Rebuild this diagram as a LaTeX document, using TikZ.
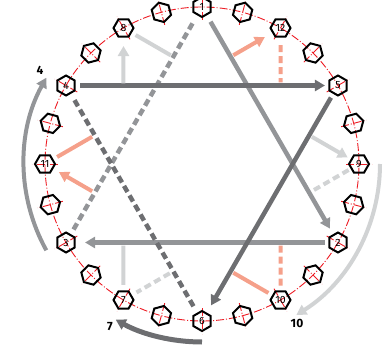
\documentclass[tikz,border=0pt]{standalone}
\usepackage{fontspec}
\setmainfont{Fira Sans}
\usetikzlibrary{arrows.meta,shapes.geometric}
\definecolor{redl}{HTML}{ED1C24}
\definecolor{gmed}{HTML}{939598}
\definecolor{gdark}{HTML}{6D6E71}
\definecolor{glight}{HTML}{D1D3D4}
\definecolor{salm}{HTML}{F5A08A}
\begin{document}
\begin{tikzpicture}[x=1pt,y=1pt,
 bolt/.style={regular polygon, regular polygon sides=6, minimum size=20pt, inner sep=0pt, outer sep=0pt, draw=black, line width=2pt, font=\fontsize{10.5}{10.5}\selectfont},
 redline/.style={draw=redl, line width=0.9pt, dash pattern=on 8pt off 2pt on 1pt off 2pt},
 star/.style={line width=4.5pt},
 tipa/.style={-{Triangle[length=10pt,width=11pt]}},
 sec/.style={line width=4pt},
 dsh/.style={dash pattern=on 7pt off 4pt},
 lab/.style={font=\bfseries\fontsize{12}{12}\selectfont}
]
\useasboundingbox (-202,-183) rectangle (185,164);
\def\R{157}
% bolt circle and centre lines
\draw[redline] (0,0) circle (\R);
\foreach \a in {0,15,...,345} {\draw[redline] (\a:\R-13) -- (\a:\R+13);}
% numbered bolts
\foreach \n/\a in {1/90,2/-30,3/210,4/150,5/30,6/270,7/240,8/120,9/0,10/300,11/180,12/60} {
  \coordinate (p\n) at (\a:\R);
  \node[bolt, shape border rotate=\a] (b\n) at (p\n) {\n};
}
% other bolts
\foreach \a [count=\i] in {15,45,...,345} {
  \node[bolt, shape border rotate=\a] (u\i) at (\a:\R) {};
}
% star, first two triangles
\draw[star, gmed, tipa, shorten <=17pt, shorten >=16pt] (b1.center) -- (b2.center);
\draw[star, gmed, tipa, shorten <=13pt, shorten >=19pt] (b2.center) -- (b3.center);
\draw[star, gmed, dsh, shorten <=15pt, shorten >=15pt] (b3.center) -- (b1.center);
\draw[star, gdark, tipa, shorten <=14pt, shorten >=13pt] (b4.center) -- (b5.center);
\draw[star, gdark, tipa, shorten <=14pt, shorten >=18pt] (b5.center) -- (b6.center);
\draw[star, gdark, dsh, shorten <=17pt, shorten >=13pt] (b6.center) -- (b4.center);
% third triangle (light grey)
\draw[sec, glight, shorten <=15pt, shorten >=3pt] (b7.center) -- (intersection of p7--p8 and p2--p3);
\draw[sec, glight, tipa, shorten <=2pt, shorten >=18pt] (intersection of p7--p8 and p4--p5) -- (b8.center);
\draw[sec, glight, shorten <=14pt, shorten >=3pt] (b8.center) -- (intersection of p8--p9 and p3--p1);
\draw[sec, glight, tipa, shorten <=3pt, shorten >=13pt] (intersection of p8--p9 and p5--p6) -- (b9.center);
\draw[sec, glight, dsh, shorten <=12pt, shorten >=4pt] (b9.center) -- (intersection of p9--p7 and p1--p2);
\draw[sec, glight, dsh, shorten <=4pt, shorten >=15pt] (intersection of p9--p7 and p4--p6) -- (b7.center);
% fourth triangle (salmon)
\draw[sec, salm, shorten <=14pt, shorten >=3pt] (b10.center) -- (intersection of p10--p11 and p5--p6);
\draw[sec, salm, tipa, shorten <=3pt, shorten >=16pt] (intersection of p10--p11 and p3--p1) -- (b11.center);
\draw[sec, salm, shorten <=14pt, shorten >=3pt] (b11.center) -- (intersection of p11--p12 and p4--p6);
\draw[sec, salm, tipa, shorten <=3pt, shorten >=18pt] (intersection of p11--p12 and p1--p2) -- (b12.center);
\draw[sec, salm, dsh, shorten <=17pt, shorten >=3pt] (b12.center) -- (intersection of p12--p10 and p4--p5);
\draw[sec, salm, dsh, shorten <=3pt, shorten >=13pt] (intersection of p12--p10 and p2--p3) -- (b10.center);
% transitions
\coordinate (s4) at (209:178);
\coordinate (s7) at (-90:178);
\coordinate (s10) at (0:178);
\draw[line width=4pt, gmed, tipa] (s4) arc[start angle=209, end angle=151, radius=178];
\draw[line width=5pt, gdark, tipa] (s7) arc[start angle=-90, end angle=-119, radius=178];
\draw[line width=4pt, glight, tipa] (s10) arc[start angle=0, end angle=-58, radius=178];
\node[lab] (l4) at (-162,94) {4};
\node[lab] (l7) at (-92,-163) {7};
\node[lab] (l10) at (95,-159) {10};
\end{tikzpicture}
\end{document}
